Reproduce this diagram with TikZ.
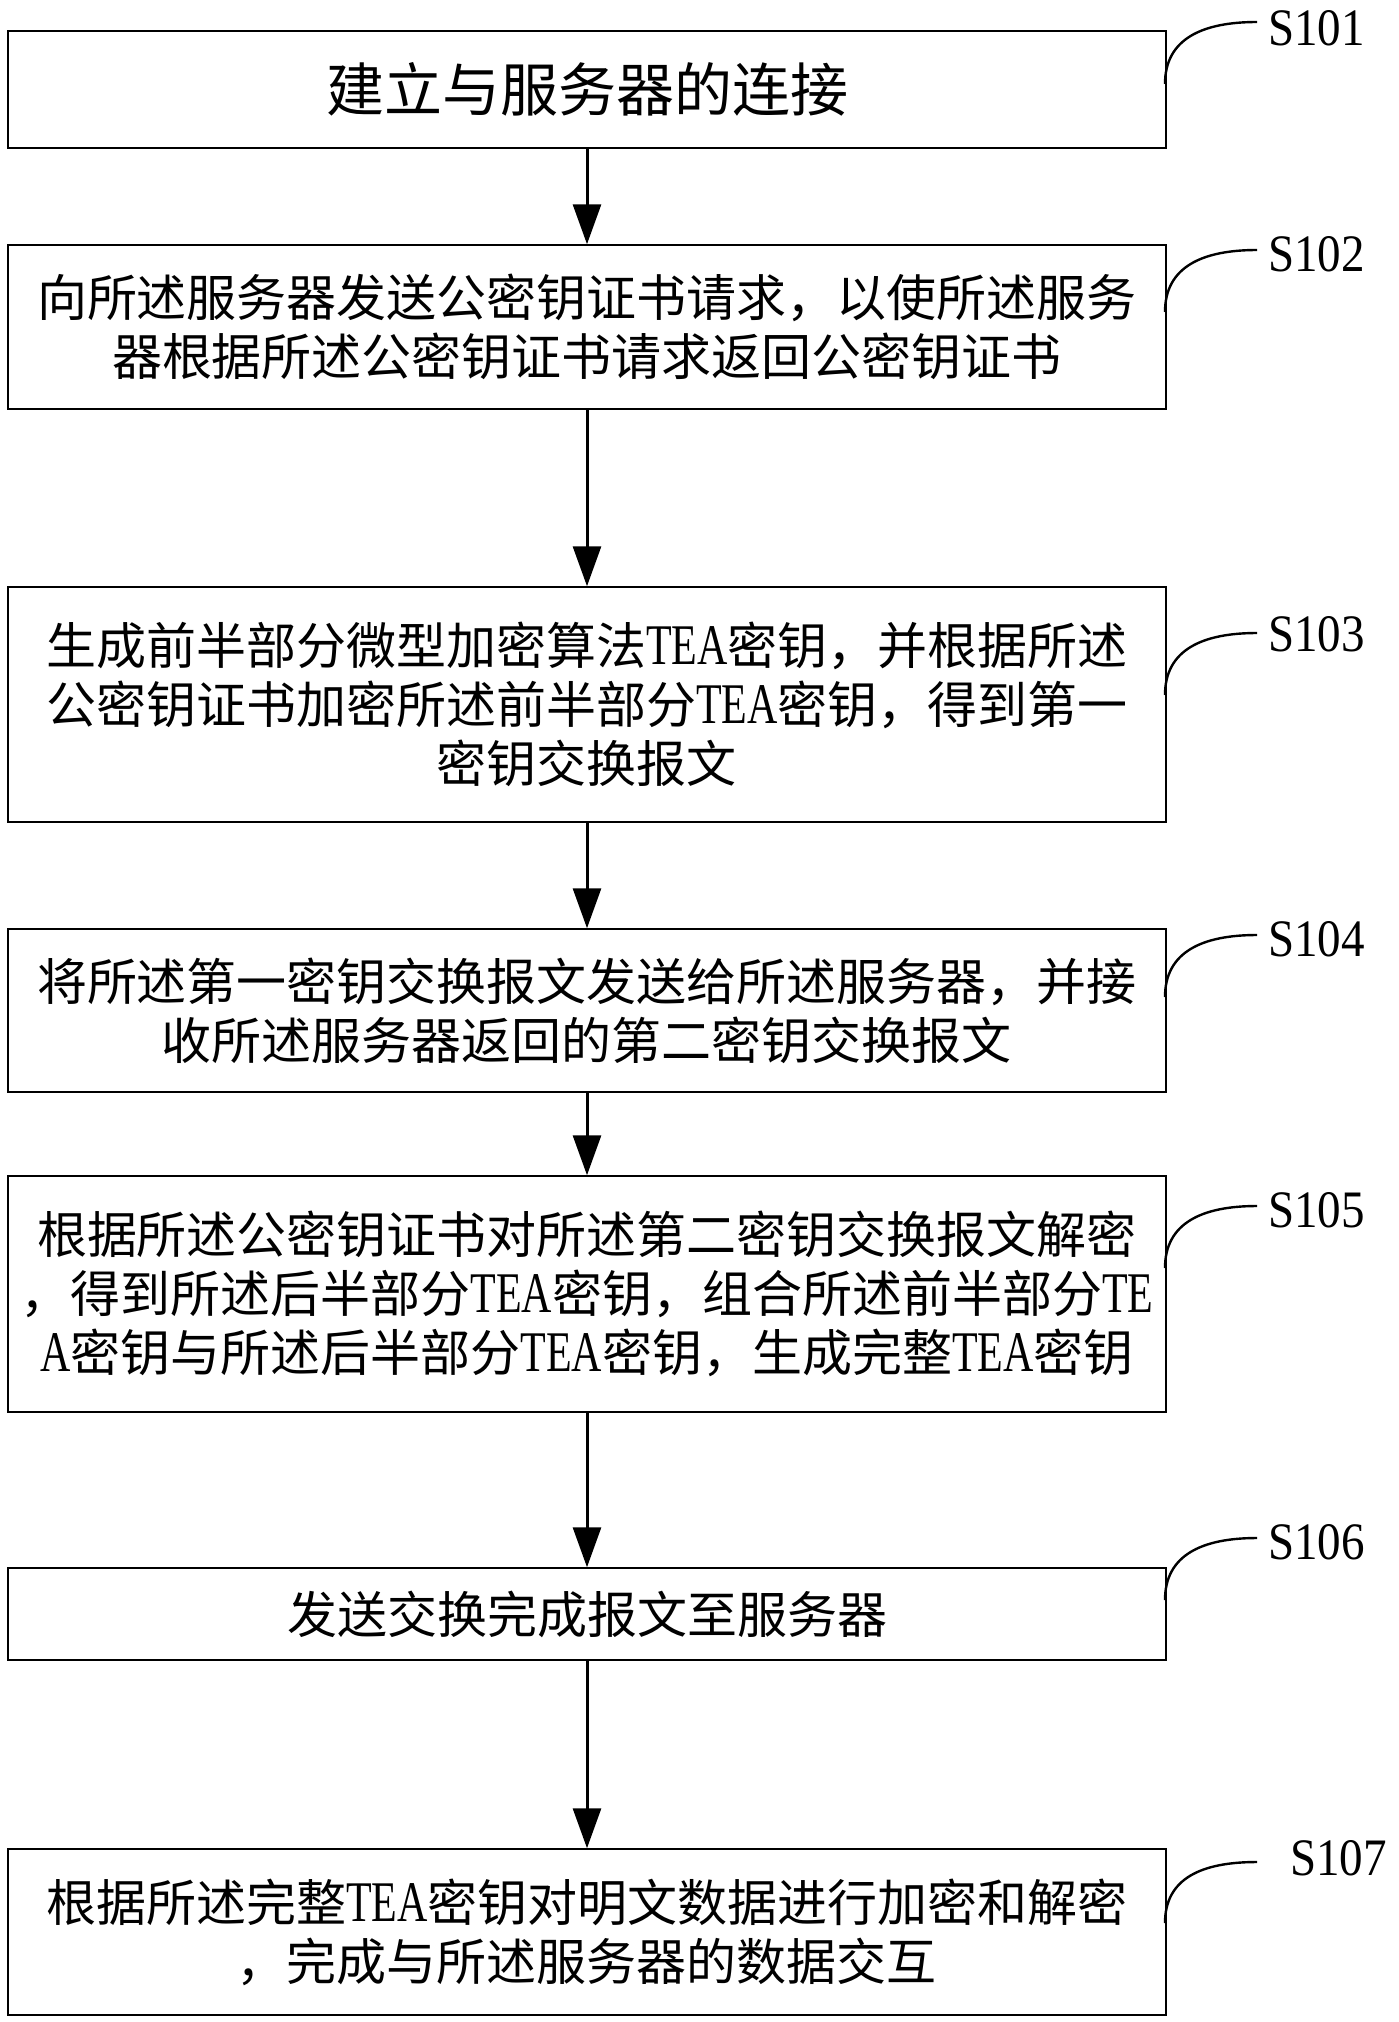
\documentclass[tikz,border=0pt]{standalone}
\usepackage{fontspec}
\setmainfont{Liberation Serif}
\newfontfamily\cjk{Noto Sans CJK SC}
\usetikzlibrary{arrows.meta}
\newcommand{\teaw}{\scalebox{0.84}[1.15]{\rmfamily TEA}}
\newcommand{\tew}{\scalebox{0.84}[1.15]{\rmfamily TE}}
\newcommand{\aw}{\scalebox{0.84}[1.15]{\rmfamily A}}
\begin{document}
\begin{tikzpicture}[x=1pt,y=1pt,
  box/.style={draw, line width=1.5pt, minimum width=1158pt, inner sep=0pt, align=center,
              font=\fontsize{50}{59}\selectfont\cjk},
  arr/.style={-{Triangle[length=40pt,width=28pt]}, line width=3pt},
  lbl/.style={font=\fontsize{47}{50}\selectfont\rmfamily, inner sep=0pt, anchor=west},
  lead/.style={line width=2.4pt}]
\useasboundingbox[fill=white] (0,0) rectangle (1398,-2022);

\node[box, minimum height=117pt, font=\fontsize{58}{66}\selectfont\cjk] (b1) at (587,-89.5) {建立与服务器的连接};
\node[box, minimum height=164pt] (b2) at (587,-327) {向所述服务器发送公密钥证书请求，以使所述服务\\器根据所述公密钥证书请求返回公密钥证书};
\node[box, minimum height=235pt] (b3) at (587,-704.5) {生成前半部分微型加密算法\teaw 密钥，并根据所述\\公密钥证书加密所述前半部分\teaw 密钥，得到第一\\密钥交换报文};
\node[box, minimum height=163pt] (b4) at (587,-1010.5) {将所述第一密钥交换报文发送给所述服务器，并接\\收所述服务器返回的第二密钥交换报文};
\node[box, minimum height=236pt] (b5) at (587,-1294) {根据所述公密钥证书对所述第二密钥交换报文解密\\，得到所述后半部分\teaw 密钥，组合所述前半部分\tew\\\aw 密钥与所述后半部分\teaw 密钥，生成完整\teaw 密钥};
\node[box, minimum height=92pt] (b6) at (587,-1614) {发送交换完成报文至服务器};
\node[box, minimum height=166pt] (b7) at (587,-1932) {根据所述完整\teaw 密钥对明文数据进行加密和解密\\，完成与所述服务器的数据交互};

\draw[arr] (b1.south) -- (b2.north);
\draw[arr] (b2.south) -- (b3.north);
\draw[arr] (b3.south) -- (b4.north);
\draw[arr] (b4.south) -- (b5.north);
\draw[arr] (b5.south) -- (b6.north);
\draw[arr] (b6.south) -- (b7.north);

\node[lbl] (s1) at (1268,-28) {\scalebox{1}[1.12]{S101}};
\node[lbl] (s2) at (1268,-254) {\scalebox{1}[1.12]{S102}};
\node[lbl] (s3) at (1268,-634) {\scalebox{1}[1.12]{S103}};
\node[lbl] (s4) at (1268,-939) {\scalebox{1}[1.12]{S104}};
\node[lbl] (s5) at (1268,-1210) {\scalebox{1}[1.12]{S105}};
\node[lbl] (s6) at (1268,-1542) {\scalebox{1}[1.12]{S106}};
\node[lbl] (s7) at (1290,-1858) {\scalebox{1}[1.12]{S107}};

\coordinate (e1) at (1257,-22);  \coordinate (a1) at (1165,-84);
\coordinate (e2) at (1257,-250); \coordinate (a2) at (1165,-312);
\coordinate (e3) at (1257,-633); \coordinate (a3) at (1165,-695);
\coordinate (e4) at (1257,-935); \coordinate (a4) at (1165,-997);
\coordinate (e5) at (1257,-1206); \coordinate (a5) at (1165,-1268);
\coordinate (e6) at (1257,-1538); \coordinate (a6) at (1165,-1600);
\coordinate (e7) at (1257,-1862); \coordinate (a7) at (1165,-1923);
\foreach \i in {1,...,7}{
  \draw[lead] (a\i) .. controls +(0,45) and +(-55,0) .. (e\i);
}
\end{tikzpicture}
\end{document}
